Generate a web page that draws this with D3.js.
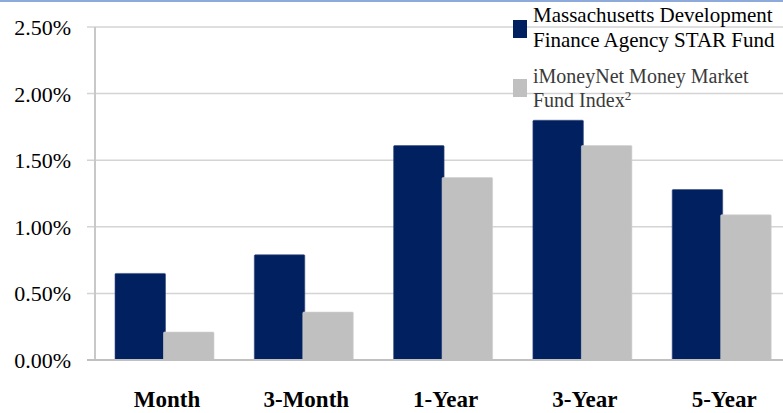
<!DOCTYPE html>
<html>
<head>
<meta charset="utf-8">
<script src="https://cdn.jsdelivr.net/npm/d3@7"></script>
<style>
  body { margin: 0; background: #fff; }
  svg { display: block; font-family: "Liberation Serif", "Times New Roman", serif; }
</style>
</head>
<body>
<div id="chart"></div>
<script>
var categories = ['Month', '3-Month', '1-Year', '3-Year', '5-Year'];
var seriesNames = ['Massachusetts Development Finance Agency STAR Fund', 'iMoneyNet Money Market Fund Index'];
var starFund = [0.65, 0.79, 1.61, 1.80, 1.28];
var moneyNet = [0.21, 0.36, 1.37, 1.61, 1.09];
var yTicks = [0, 0.5, 1.0, 1.5, 2.0, 2.5];

(function () {
  var width = 783, height = 413;
  var plotLeft = 95, plotTop = 27, plotBottom = 360;
  var colors = ['#002060', '#c0c0c0'];

  var svg = d3.select('#chart').append('svg')
    .attr('width', width)
    .attr('height', height);

  var y = d3.scaleLinear().domain([0, 2.5]).range([plotBottom, plotTop]);
  var x0 = d3.scaleBand().domain(categories).range([plotLeft, plotLeft + 5 * 139.3]);
  var x1 = d3.scaleBand().domain([0, 1]).range([20, 117]);

  // gridlines
  svg.append('g').selectAll('line')
    .data(yTicks.filter(function (d) { return d > 0; }))
    .enter().append('line')
    .attr('x1', 87).attr('x2', width)
    .attr('y1', function (d) { return y(d); })
    .attr('y2', function (d) { return y(d); })
    .attr('stroke', '#d4d4d4')
    .attr('stroke-width', 1.5);

  svg.append('g').selectAll('text')
    .data(yTicks)
    .enter().append('text')
    .attr('x', 71)
    .attr('y', function (d) { return y(d) + 8; })
    .attr('text-anchor', 'end')
    .attr('font-size', 22)
    .attr('fill', '#000')
    .text(function (d) { return d.toFixed(2) + '%'; });

  // bars
  [starFund, moneyNet].forEach(function (vals, s) {
    svg.append('g').selectAll('rect')
      .data(vals)
      .enter().append('rect')
      .attr('x', function (d, i) { return x0(categories[i]) + x1(s); })
      .attr('y', function (d) { return y(d); })
      .attr('width', x1.bandwidth() + 2)
      .attr('height', function (d) { return plotBottom - y(d); })
      .attr('rx', 1)
      .attr('fill', colors[s])
      .attr('stroke', s === 0 ? '#3c4f80' : '#d0d0d0')
      .attr('stroke-width', 0.6);
  });

  // axis lines
  svg.append('line')
    .attr('x1', plotLeft).attr('x2', plotLeft)
    .attr('y1', plotTop).attr('y2', plotBottom)
    .attr('stroke', '#c8c8c8').attr('stroke-width', 2);
  svg.append('line')
    .attr('x1', 87).attr('x2', width)
    .attr('y1', plotBottom).attr('y2', plotBottom)
    .attr('stroke', '#c0c0c0').attr('stroke-width', 2);

  // thin blue border across the top
  svg.append('rect')
    .attr('x', 0).attr('y', 0)
    .attr('width', width).attr('height', 2)
    .attr('fill', '#8eaadb');

  // category labels
  svg.append('g').selectAll('text')
    .data(categories)
    .enter().append('text')
    .attr('x', function (d) { return x0(d) + 72; })
    .attr('y', 407)
    .attr('text-anchor', 'middle')
    .attr('font-size', 23)
    .attr('font-weight', 'bold')
    .text(function (d) { return d; });

  // legend
  var legend = svg.append('g');
  legend.append('rect').attr('x', 513).attr('y', 20).attr('width', 14).attr('height', 18).attr('fill', colors[0]);
  legend.append('rect').attr('x', 513).attr('y', 79).attr('width', 14).attr('height', 18).attr('fill', colors[1]);

  var l1 = legend.append('text').attr('font-size', 21).attr('fill', '#000');
  l1.append('tspan').attr('x', 533).attr('y', 22).text('Massachusetts Development');
  l1.append('tspan').attr('x', 533).attr('y', 47).text('Finance Agency STAR Fund');

  var l2 = legend.append('text').attr('font-size', 20).attr('fill', '#3a3a3a');
  l2.append('tspan').attr('x', 533).attr('y', 83).text('iMoneyNet Money Market');
  l2.append('tspan').attr('x', 533).attr('y', 107).text('Fund Index');
  l2.append('tspan').attr('dy', -7).attr('font-size', 13).text('2');
})();
</script>
</body>
</html>
